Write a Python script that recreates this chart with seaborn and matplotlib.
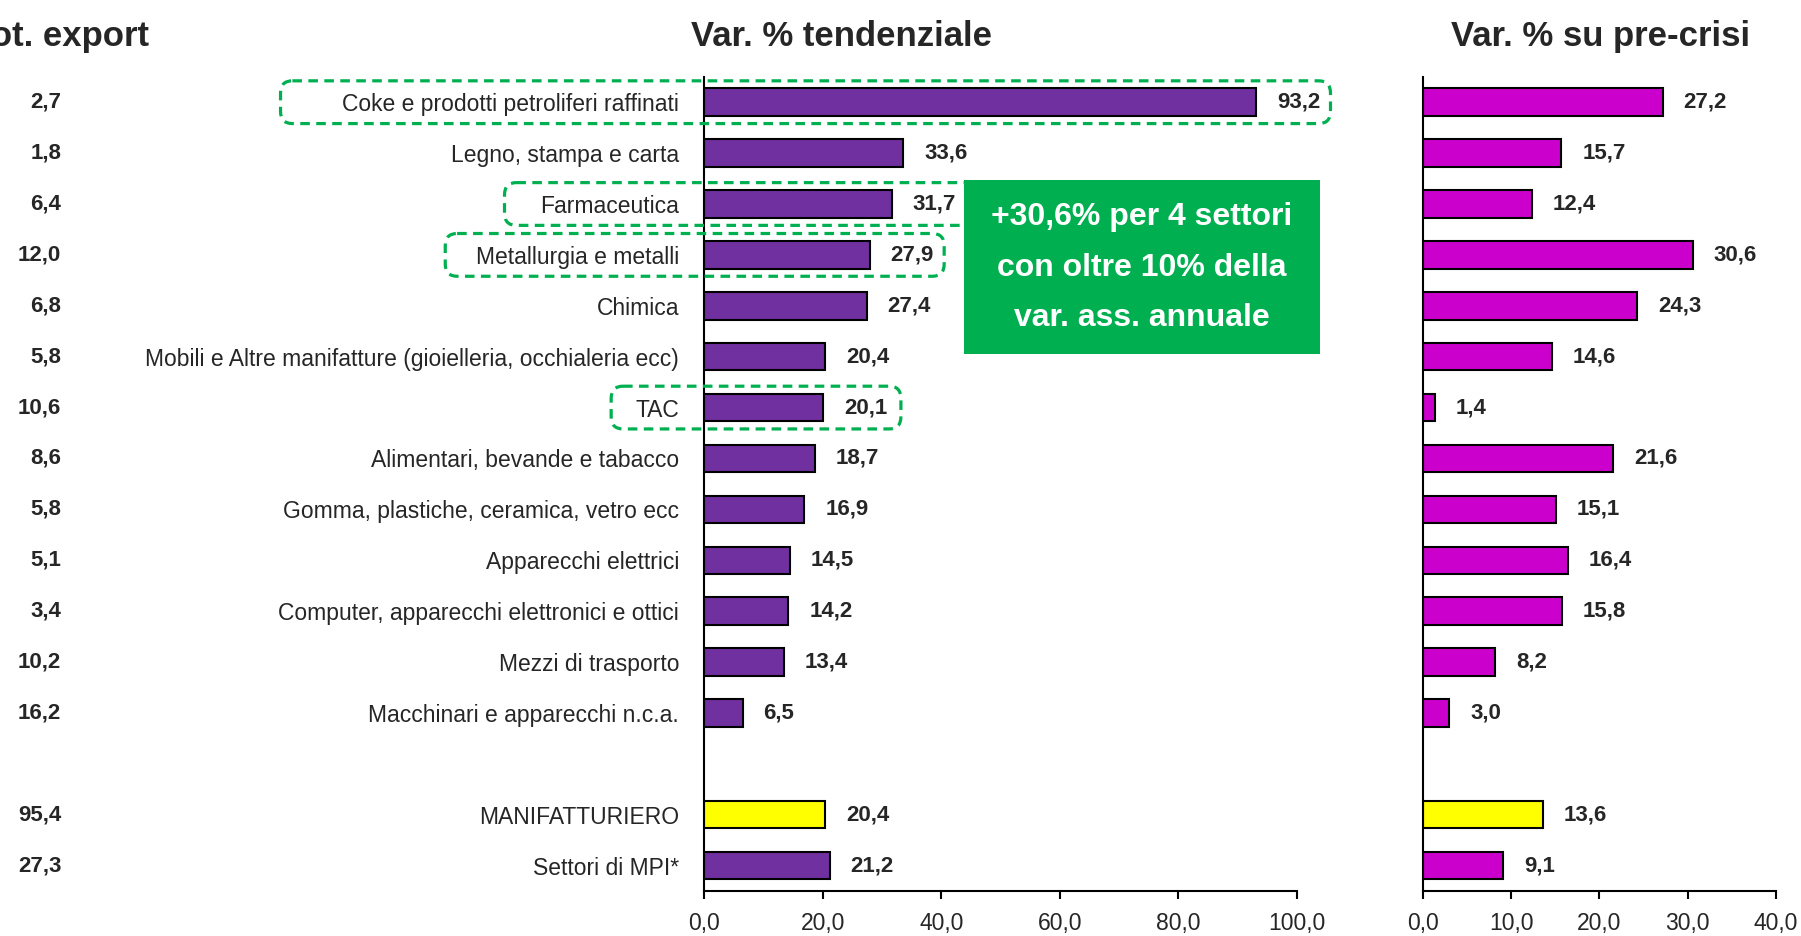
import matplotlib
matplotlib.use("Agg")
import matplotlib.pyplot as plt
import matplotlib.transforms as mtransforms
from matplotlib.patches import FancyBboxPatch, Rectangle
import pandas as pd
import seaborn as sns

settori = ["Coke e prodotti petroliferi raffinati", "Legno, stampa e carta", "Farmaceutica",
           "Metallurgia e metalli", "Chimica",
           "Mobili e Altre manifatture (gioielleria, occhialeria ecc)", "TAC",
           "Alimentari, bevande e tabacco", "Gomma, plastiche, ceramica, vetro ecc",
           "Apparecchi elettrici", "Computer, apparecchi elettronici e ottici",
           "Mezzi di trasporto", "Macchinari e apparecchi n.c.a.",
           "MANIFATTURIERO", "Settori di MPI*"]
peso_export = [2.7, 1.8, 6.4, 12.0, 6.8, 5.8, 10.6, 8.6, 5.8, 5.1, 3.4, 10.2, 16.2, 95.4, 27.3]
var_tend = [93.2, 33.6, 31.7, 27.9, 27.4, 20.4, 20.1, 18.7, 16.9, 14.5, 14.2, 13.4, 6.5, 20.4, 21.2]
var_precrisi = [27.2, 15.7, 12.4, 30.6, 24.3, 14.6, 1.4, 21.6, 15.1, 16.4, 15.8, 8.2, 3.0, 13.6, 9.1]
evidenziati = ["Coke e prodotti petroliferi raffinati", "Farmaceutica", "Metallurgia e metalli", "TAC"]

# empty slot between the single sectors and the totals
ordine = settori[:13] + [" "] + settori[13:]

df = pd.DataFrame({"settore": settori, "peso": peso_export,
                   "tend": var_tend, "precrisi": var_precrisi})

VIOLA = "#7030A0"
MAGENTA = "#CC00CC"
GIALLO = "#FFFF00"
VERDE = "#00B050"

col_tend = {s: (GIALLO if s == "MANIFATTURIERO" else VIOLA) for s in settori}
col_pre = {s: (GIALLO if s == "MANIFATTURIERO" else MAGENTA) for s in settori}

sns.set_style("white")
plt.rcParams["font.family"] = ["Liberation Sans Narrow", "Liberation Sans", "DejaVu Sans"]


def fmt(v):
    return f"{v:.1f}".replace(".", ",")


fig = plt.figure(figsize=(18.01, 9.36), dpi=100)
ax1 = fig.add_axes([0.391, 0.048, 0.329, 0.870])
ax2 = fig.add_axes([0.790, 0.048, 0.196, 0.870])

for ax, col, pal, xmax, step in [(ax1, "tend", col_tend, 100, 20),
                                 (ax2, "precrisi", col_pre, 40, 10)]:
    sns.barplot(data=df, y="settore", x=col, order=ordine, hue="settore",
                palette=pal, legend=False, width=0.54, saturation=1,
                edgecolor="black", linewidth=1.5, ax=ax)
    ax.set_xlim(0, xmax)
    ax.set_ylim(15.5, -0.5)
    ax.set_xticks(range(0, xmax + 1, step))
    ax.set_xticklabels([fmt(t) for t in range(0, xmax + 1, step)])
    ax.set_xlabel("")
    ax.set_ylabel("")
    for s in ["top", "right"]:
        ax.spines[s].set_visible(False)
    for s in ["left", "bottom"]:
        ax.spines[s].set_color("black")
        ax.spines[s].set_linewidth(1.5)
    ax.set_yticks([i - 0.5 for i in range(17)], minor=True)
    ax.tick_params(axis="y", which="major", length=0, pad=18, labelsize=16.5)
    ax.tick_params(axis="y", which="minor", length=6, width=1.5, color="black", direction="out")
    ax.tick_params(axis="x", length=6, width=1.5, color="black", direction="out",
                   pad=9, labelsize=16.5, bottom=True)
    for s, v in zip(df["settore"], df[col]):
        ax.annotate(fmt(v), (v, ordine.index(s)), xytext=(15, 0), textcoords="offset points",
                    ha="left", va="center", fontsize=16, fontweight="bold")

ax2.set_yticklabels([])

# panel titles
fig.text(0.4675, 0.961, "Var. % tendenziale", ha="center", va="center",
         fontsize=25, fontweight="bold")
fig.text(0.8885, 0.961, "Var. % su pre-crisi", ha="center", va="center",
         fontsize=25, fontweight="bold")

# left column: share of total export
trans = mtransforms.blended_transform_factory(fig.transFigure, ax1.transData)
for s, p in zip(df["settore"], df["peso"]):
    fig.text(0.034, ordine.index(s), fmt(p), transform=trans, ha="right", va="center",
             fontsize=16, fontweight="bold")
fig.text(0.083, 0.961, "Peso % tot. export", ha="right", va="center",
         fontsize=25, fontweight="bold")

# dashed boxes around highlighted sectors (x in data units of the middle panel)
box_x = {"Coke e prodotti petroliferi raffinati": (-71.5, 105.7),
         "Farmaceutica": (-33.7, 46.0),
         "Metallurgia e metalli": (-43.7, 40.5),
         "TAC": (-15.7, 33.2)}
for s in evidenziati:
    x0, x1 = box_x[s]
    y = ordine.index(s)
    ax1.add_patch(FancyBboxPatch((x0, y - 0.42), x1 - x0, 0.84,
                                 boxstyle="round,pad=0,rounding_size=2",
                                 mutation_aspect=0.12, fill=False, edgecolor=VERDE,
                                 linewidth=2.3, linestyle=(0, (3, 2)), clip_on=False, zorder=4))

ax1.add_patch(Rectangle((43.8, 1.53), 60.1, 3.41, facecolor=VERDE, edgecolor="none",
                        clip_on=False, zorder=5))
ax1.text(73.9, 3.25, "+30,6% per 4 settori\ncon oltre 10% della\nvar. ass. annuale",
         ha="center", va="center", color="white", fontsize=23, fontweight="bold",
         linespacing=1.9, zorder=6)

fig.savefig("out.png", dpi=100)
